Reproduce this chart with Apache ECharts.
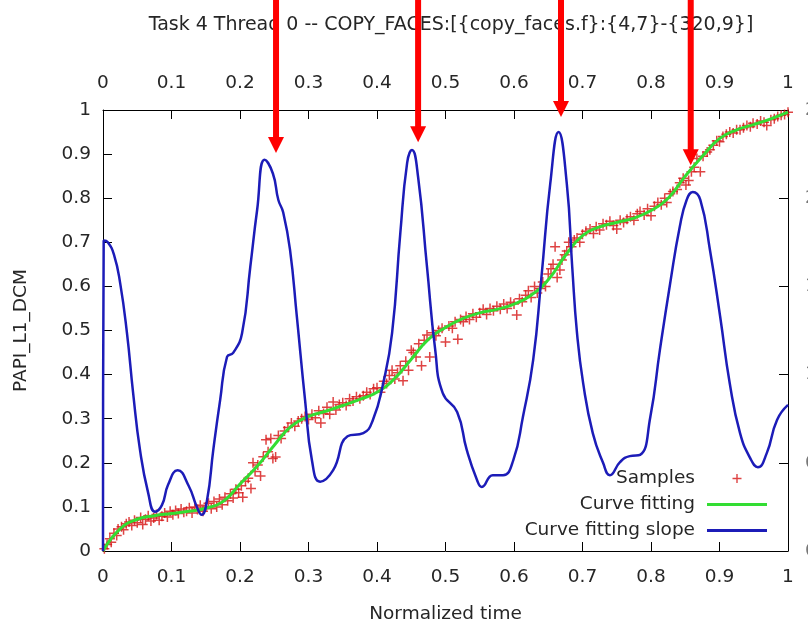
<!DOCTYPE html>
<html>
<head>
<meta charset="utf-8">
<script src="https://cdn.jsdelivr.net/npm/echarts@6/dist/echarts.min.js"></script>
<style>
  html, body { margin: 0; padding: 0; background: #fff; }
  #main { width: 808px; height: 623px; }
</style>
</head>
<body>
<div id="main"></div>
<script>
const FONT = 'DejaVu Sans';
const TXT = '#262626';
const FS = 18.5;

// x tick labels (both bottom and top axis)
const xTicks = ['0', '0.1', '0.2', '0.3', '0.4', '0.5', '0.6', '0.7', '0.8', '0.9', '1'];

// measured samples [time, value]
const samples = [
  [0.002,0.005],[0.006,0.015],[0.01,0.028],[0.012,0.02],[0.016,0.04],[0.02,0.035],[0.022,0.05],
  [0.027,0.055],[0.03,0.048],[0.034,0.062],[0.038,0.066],[0.042,0.058],[0.046,0.07],[0.05,0.064],
  [0.055,0.076],[0.058,0.06],[0.062,0.072],[0.066,0.08],[0.07,0.068],[0.074,0.075],[0.078,0.083],
  [0.082,0.07],[0.086,0.079],[0.09,0.086],[0.094,0.077],[0.098,0.09],[0.102,0.082],[0.106,0.092],
  [0.11,0.085],[0.114,0.095],[0.118,0.088],[0.122,0.09],[0.126,0.098],[0.13,0.086],[0.134,0.1],
  [0.138,0.094],[0.142,0.104],[0.146,0.09],[0.15,0.1],
  [0.154,0.108],[0.158,0.096],[0.162,0.112],[0.166,0.1],[0.17,0.118],[0.174,0.105],[0.178,0.122],
  [0.182,0.114],[0.186,0.13],[0.19,0.12],[0.194,0.14],[0.198,0.132],[0.202,0.148],[0.204,0.122],
  [0.208,0.158],[0.212,0.165],[0.216,0.142],[0.219,0.2],[0.222,0.18],[0.226,0.195],[0.23,0.17],
  [0.234,0.214],[0.238,0.252],[0.241,0.225],[0.245,0.255],[0.248,0.21],[0.252,0.213],[0.256,0.262],
  [0.26,0.255],[0.265,0.272],[0.27,0.28],[0.275,0.29],[0.28,0.283],[0.285,0.295],[0.29,0.3],
  [0.295,0.305],[0.3,0.298],[0.305,0.31],[0.31,0.302],[0.315,0.318],[0.318,0.29],[0.322,0.312],
  [0.327,0.326],[0.331,0.31],
  [0.336,0.338],[0.34,0.32],[0.345,0.332],[0.35,0.336],[0.355,0.33],[0.36,0.345],[0.365,0.34],
  [0.37,0.35],[0.375,0.345],[0.38,0.352],[0.385,0.36],[0.39,0.355],[0.395,0.368],[0.4,0.37],
  [0.405,0.36],[0.41,0.385],[0.414,0.38],[0.418,0.398],[0.422,0.41],[0.426,0.39],[0.43,0.404],
  [0.434,0.42],[0.438,0.386],[0.442,0.43],[0.446,0.41],[0.45,0.455],[0.453,0.45],[0.457,0.44],
  [0.461,0.47],[0.465,0.42],[0.469,0.478],[0.473,0.49],[0.477,0.44],[0.481,0.495],[0.486,0.488],
  [0.49,0.5],[0.495,0.505],[0.5,0.474],
  [0.505,0.51],[0.51,0.505],[0.514,0.52],[0.518,0.48],[0.522,0.525],[0.526,0.52],[0.53,0.532],
  [0.535,0.525],[0.54,0.538],[0.545,0.53],[0.55,0.54],[0.555,0.548],[0.56,0.536],[0.565,0.55],
  [0.57,0.545],[0.575,0.555],[0.58,0.548],[0.585,0.56],[0.59,0.55],[0.595,0.564],[0.6,0.56],
  [0.604,0.535],[0.608,0.572],[0.612,0.565],[0.617,0.58],[0.621,0.59],[0.625,0.575],[0.63,0.6],
  [0.634,0.585],[0.638,0.595],[0.642,0.61],[0.646,0.6],[0.65,0.628],
  [0.654,0.64],[0.657,0.65],[0.66,0.69],[0.663,0.62],[0.667,0.637],[0.67,0.66],[0.674,0.672],
  [0.677,0.68],[0.68,0.7],[0.684,0.69],[0.688,0.705],[0.692,0.71],[0.696,0.7],[0.7,0.718],
  [0.705,0.725],[0.711,0.73],[0.716,0.72],[0.72,0.735],[0.725,0.728],[0.73,0.742],[0.735,0.74],
  [0.74,0.748],[0.745,0.738],[0.75,0.73],[0.755,0.75],[0.76,0.745],[0.765,0.752],[0.77,0.758],
  [0.775,0.75],[0.78,0.765],[0.784,0.77],[0.79,0.762],[0.795,0.776],[0.8,0.76],
  [0.805,0.782],[0.81,0.79],[0.815,0.785],[0.82,0.8],[0.823,0.79],[0.828,0.81],[0.832,0.815],
  [0.838,0.82],[0.842,0.835],[0.847,0.845],[0.851,0.83],[0.855,0.84],[0.859,0.86],[0.863,0.87],
  [0.867,0.89],[0.872,0.86],[0.876,0.895],[0.882,0.905],[0.886,0.91],[0.891,0.92],[0.896,0.93],
  [0.9,0.928],[0.905,0.94],[0.91,0.945],[0.915,0.95],[0.92,0.948],[0.925,0.955],[0.93,0.955],
  [0.935,0.96],[0.94,0.965],[0.945,0.962],[0.949,0.97],[0.955,0.968],[0.96,0.975],[0.965,0.972],
  [0.969,0.965],[0.975,0.978],[0.98,0.98],[0.985,0.985],[0.99,0.988],[0.995,0.99],[1.0,0.995]
];

// fitted curve
const fitX = [0, 0.025, 0.05, 0.075, 0.1, 0.125, 0.15, 0.175, 0.2, 0.225, 0.25, 0.275, 0.3, 0.325,
  0.35, 0.375, 0.4, 0.425, 0.45, 0.475, 0.5, 0.525, 0.55, 0.575, 0.6, 0.625, 0.65, 0.675, 0.7,
  0.725, 0.75, 0.775, 0.8, 0.825, 0.85, 0.875, 0.9, 0.925, 0.95, 0.975, 1];
const fitY = [0, 0.05, 0.072, 0.08, 0.085, 0.09, 0.097, 0.112, 0.152, 0.192, 0.24, 0.283, 0.305,
  0.317, 0.33, 0.344, 0.36, 0.39, 0.435, 0.48, 0.507, 0.527, 0.54, 0.548, 0.56, 0.58, 0.615, 0.67,
  0.715, 0.735, 0.745, 0.755, 0.772, 0.8, 0.85, 0.895, 0.935, 0.955, 0.967, 0.98, 0.995];

// slope of the fit (right axis units)
const slope = [
  [0,0],[0.001,1.76],[0.007,1.75],[0.016,1.68],[0.025,1.52],[0.035,1.235],[0.044,0.895],
  [0.054,0.573],[0.066,0.328],[0.076,0.223],[0.086,0.26],[0.095,0.375],[0.109,0.458],[0.125,0.37],
  [0.137,0.25],[0.144,0.205],[0.152,0.29],[0.161,0.573],[0.171,0.855],[0.181,1.1],[0.19,1.123],
  [0.203,1.235],[0.215,1.61],[0.225,1.933],[0.236,2.218],[0.248,2.14],[0.256,1.99],[0.263,1.92],
  [0.273,1.708],[0.283,1.328],[0.295,0.855],[0.305,0.515],[0.317,0.393],[0.336,0.458],[0.357,0.65],
  [0.38,0.668],[0.394,0.743],[0.409,0.95],[0.422,1.235],[0.434,1.8],[0.444,2.2],[0.451,2.273],
  [0.46,2.12],[0.473,1.61],[0.485,1.14],[0.496,0.895],[0.517,0.788],[0.531,0.573],[0.546,0.403],
  [0.553,0.363],[0.569,0.43],[0.584,0.43],[0.599,0.515],[0.613,0.76],[0.628,1.083],[0.64,1.55],
  [0.653,2.085],[0.665,2.375],[0.677,2.085],[0.685,1.61],[0.692,1.235],[0.701,0.95],[0.715,0.668],
  [0.73,0.5],[0.74,0.43],[0.755,0.505],[0.769,0.538],[0.784,0.545],[0.799,0.76],[0.813,1.14],
  [0.828,1.518],[0.842,1.838],[0.852,1.99],[0.861,2.035],[0.872,1.99],[0.886,1.708],[0.901,1.328],
  [0.915,0.95],[0.93,0.668],[0.945,0.525],[0.956,0.475],[0.969,0.555],[0.984,0.743],[1.0,0.828]
];

// red arrows pasted over the plot: x position and tip height (left axis units)
const arrowX = [0.2526, 0.46, 0.6686, 0.858];
const arrowTip = [0.9025, 0.927, 0.984, 0.875];

const chart = echarts.init(document.getElementById('main'), null, { renderer: 'canvas' });

const plusPath = 'path://M4.25,0h1.5v4.25h4.25v1.5h-4.25v4.25h-1.5v-4.25h-4.25v-1.5h4.25z';
const legendPlus = 'path://M0,5L0,5Z M60,5L60,5Z M29.3,0.5h1.4v3.8h3.8v1.4h-3.8v3.8h-1.4v-3.8h-3.8v-1.4h3.8z';
const legendBar = 'path://M0,0L0,0Z M0,10L0,10Z M0,3.5H60V6.5H0Z';

function xAxisCfg(pos) {
  return {
    type: 'value', position: pos, min: 0, max: 1, interval: 0.1,
    axisLine: { show: true, onZero: false, lineStyle: { color: '#000', width: 1 } },
    axisTick: { show: true, inside: true, length: 9, lineStyle: { color: '#000' } },
    axisLabel: { fontFamily: FONT, fontSize: FS, color: TXT, margin: 17,
      formatter: (v) => xTicks[Math.round(v * 10)] },
    splitLine: { show: false }
  };
}

const option = {
  animation: false,
  backgroundColor: '#fff',
  title: {
    text: 'Task 4 Thread 0 -- COPY_FACES:[{copy_faces.f}:{4,7}-{320,9}]',
    left: 446, textAlign: 'center', top: 11,
    textStyle: { fontFamily: FONT, fontSize: 19, fontWeight: 'normal', color: TXT }
  },
  grid: { left: 103, right: 20, top: 110, bottom: 72, containLabel: false, outerBoundsMode: 'none' },
  xAxis: [
    Object.assign(xAxisCfg('bottom'), {
      name: 'Normalized time', nameLocation: 'middle', nameGap: 54,
      nameTextStyle: { fontFamily: FONT, fontSize: FS, color: TXT }
    }),
    xAxisCfg('top')
  ],
  yAxis: [
    {
      type: 'value', position: 'left', min: 0, max: 1, interval: 0.1,
      name: 'PAPI_L1_DCM', nameLocation: 'middle', nameGap: 72, nameRotate: 90,
      nameTextStyle: { fontFamily: FONT, fontSize: FS, color: TXT },
      axisLine: { show: true, onZero: false, lineStyle: { color: '#000', width: 1 } },
      axisTick: { show: true, inside: true, length: 9, lineStyle: { color: '#000' } },
      axisLabel: { fontFamily: FONT, fontSize: FS, color: TXT, margin: 12 },
      splitLine: { show: false }
    },
    {
      type: 'value', position: 'right', min: 0, max: 2.5, interval: 0.5,
      axisLine: { show: true, onZero: false, lineStyle: { color: '#000', width: 1 } },
      axisTick: { show: true, inside: true, length: 9, lineStyle: { color: '#000' } },
      axisLabel: { fontFamily: FONT, fontSize: FS, color: '#777', margin: 17 },
      splitLine: { show: false }
    }
  ],
  legend: {
    orient: 'vertical', align: 'right', right: 41, top: 469, padding: 0,
    itemWidth: 60, itemHeight: 10, itemGap: 7,
    textStyle: { fontFamily: FONT, fontSize: FS, color: TXT, lineHeight: 18, padding: [0, 7, 0, 0] },
    data: [
      { name: 'Samples', icon: legendPlus },
      { name: 'Curve fitting', icon: legendBar },
      { name: 'Curve fitting slope', icon: legendBar }
    ]
  },
  series: [
    {
      name: 'Samples', type: 'scatter', data: samples,
      symbol: plusPath, symbolSize: 10,
      itemStyle: { color: '#d61414' }, z: 2
    },
    {
      name: 'Curve fitting', type: 'line', data: fitX.map((x, i) => [x, fitY[i]]),
      smooth: 0.5, showSymbol: false,
      lineStyle: { color: '#33dd33', width: 3 }, itemStyle: { color: '#33dd33' }, z: 3
    },
    {
      name: 'Curve fitting slope', type: 'line', yAxisIndex: 1, data: slope,
      smooth: 0.5, showSymbol: false,
      lineStyle: { color: '#1c1cb8', width: 2.5 }, itemStyle: { color: '#1c1cb8' }, z: 4
    }
  ]
};

chart.setOption(option);

// arrows, placed through the chart's own coordinate system
const arrows = [];
arrowX.forEach((ax, i) => {
  const p = chart.convertToPixel({ xAxisIndex: 0, yAxisIndex: 0 }, [ax, arrowTip[i]]);
  arrows.push({
    type: 'rect', z: 100,
    shape: { x: p[0] - 3, y: 0, width: 6, height: p[1] - 15 },
    style: { fill: '#ff0000' }
  });
  arrows.push({
    type: 'polygon', z: 100,
    shape: { points: [[p[0] - 8, p[1] - 16], [p[0] + 8, p[1] - 16], [p[0], p[1]]] },
    style: { fill: '#ff0000' }
  });
});
chart.setOption({ graphic: arrows });
</script>
</body>
</html>
